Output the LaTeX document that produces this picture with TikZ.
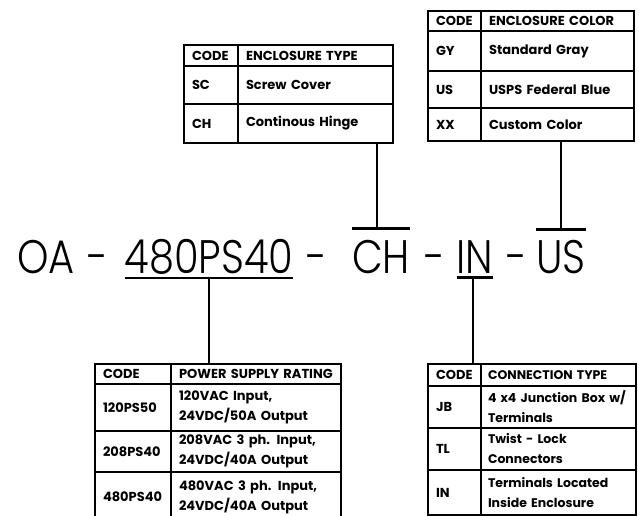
\documentclass[tikz,border=0pt]{standalone}
\usepackage{fontspec}
\newfontfamily\tabfont{Poppins}
\newfontfamily\codefont{Poppins Light}[FakeStretch=0.85]
\usetikzlibrary{positioning}

\begin{document}
\begin{tikzpicture}[x=1pt, y=-1pt,
  cell/.style={draw, line width=2pt, anchor=north west, inner xsep=8pt,
    inner ysep=0pt, align=left,
    font=\tabfont\bfseries\fontsize{13}{20}\selectfont},
  code/.style={inner sep=0pt, anchor=base,
    font=\codefont\fontsize{47}{47}\selectfont},
  bar/.style={line width=2.6pt},
  link/.style={line width=2.2pt}]
  \useasboundingbox (0,0) rectangle (639,516);
  \clip (0,0) rectangle (639,516);

  % part number
  \node[code] (oa) at (46,273) {OA};
  \node[code] (dash1) at (98,273) {-};
  \node[code, minimum width=166pt] (ps) at (209,273) {480PS40};
  \node[code] (dash2) at (317,273) {-};
  \node[code, minimum width=36pt] (ch) at (381,273) {CH};
  \node[code] (dash3) at (435,273) {-};
  \node[code, minimum width=36pt] (in) at (475,273) {IN};
  \node[code] (dash4) at (517,273) {-};
  \node[code, minimum width=49pt] (us) at (561,273) {US};

  % over and under bars
  \draw[bar] ([yshift=-4pt]ps.south west) -- ([yshift=-4pt]ps.south east);
  \draw[bar] ([yshift=-4pt]in.south west) -- ([yshift=-4pt]in.south east);
  \draw[bar] ([yshift=11pt]ch.north west) -- ([yshift=11pt]ch.north east);
  \draw[bar] ([yshift=10pt]us.north west) -- ([yshift=10pt]us.north east);
  \coordinate (psTick) at ([yshift=-4pt]ps.south);
  \coordinate (inTick) at ([xshift=-2pt,yshift=-4pt]in.south);
  \coordinate (chTick) at ([xshift=-4pt,yshift=11pt]ch.north);
  \coordinate (usTick) at ([yshift=10pt]us.north);

  % enclosure type
  \foreach \y/\h/\c/\d [count=\i] in {44/21/CODE/ENCLOSURE TYPE,
      65/38/SC/Screw Cover, 103/39/CH/Continous Hinge} {
    \node[cell, text width=38pt, minimum height=\h pt] (type-\i-l) at (183,\y) {\c};
    \node[cell, text width=139pt, minimum height=\h pt] (type-\i-r) at (237,\y) {\d};
  }

  % enclosure color
  \foreach \y/\h/\c/\d [count=\i] in {10/20/CODE/ENCLOSURE COLOR,
      30/40/GY/Standard Gray, 70/37/US/USPS Federal Blue,
      107/33/XX/Custom Color} {
    \node[cell, text width=37pt, minimum height=\h pt] (color-\i-l) at (427,\y) {\c};
    \node[cell, text width=137pt, minimum height=\h pt] (color-\i-r) at (480,\y) {\d};
  }

  % power supply rating
  \foreach \y/\h/\c/\d [count=\i] in {363/20/CODE/POWER SUPPLY RATING,
      383/47/120PS50/{120VAC Input,\\24VDC/50A Output},
      430/41/208PS40/{208VAC 3 ph. Input,\\24VDC/40A Output},
      471/50/480PS40/{480VAC 3 ph. Input,\\24VDC/40A Output}} {
    \node[cell, text width=60pt, minimum height=\h pt] (power-\i-l) at (94,\y) {\c};
    \node[cell, text width=154pt, minimum height=\h pt] (power-\i-r) at (170,\y) {\d};
  }

  % connection type
  \foreach \y/\h/\c/\d [count=\i] in {363/22/CODE/CONNECTION TYPE,
      385/42/JB/{4 x4 Junction Box w/\\Terminals},
      427/42/TL/{Twist - Lock\\Connectors},
      469/45/IN/{Terminals Located\\Inside Enclosure}} {
    \node[cell, text width=37pt, minimum height=\h pt] (conn-\i-l) at (427,\y) {\c};
    \node[cell, inner xsep=7pt, text width=141pt, minimum height=\h pt,
      font=\tabfont\bfseries\fontsize{12.5}{20}\selectfont] (conn-\i-r) at (480,\y) {\d};
  }

  % links
  \draw[link] (type-3-r.south -| chTick) -- (chTick);
  \draw[link] (color-4-r.south -| usTick) -- (usTick);
  \draw[link] (psTick) -- (power-1-r.north -| psTick);
  \draw[link] (inTick) -- (conn-1-l.north -| inTick);
\end{tikzpicture}
\end{document}
